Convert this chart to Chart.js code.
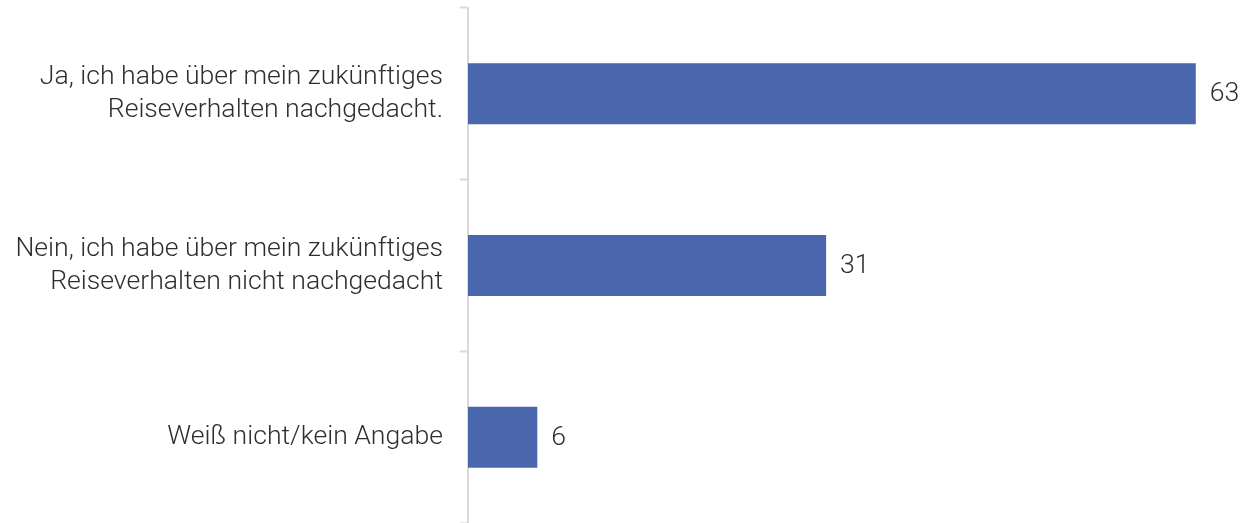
<!DOCTYPE html>
<html>
<head>
<meta charset="utf-8">
<script src="https://cdn.jsdelivr.net/npm/chart.js@4/dist/chart.umd.min.js"></script>
<style>
  html, body { margin: 0; padding: 0; background: #ffffff; }
  #wrap { width: 1244px; height: 523px; position: relative; }
</style>
</head>
<body>
<div id="wrap"><canvas id="c"></canvas></div>
<script>
// Answer categories (multi-line labels) and their shares in percent
const categories = [
  ["Ja, ich habe über mein zukünftiges", "Reiseverhalten nachgedacht."],
  ["Nein, ich habe über mein zukünftiges", "Reiseverhalten nicht nachgedacht"],
  ["Weiß nicht/kein Angabe"]
];
const values = [63, 31, 6];

const barColor = '#4a66ad';
const textColor = '#2e2e2e';
const axisColor = '#d9d9d9';
const fontFamily = 'Roboto, "Noto Sans", sans-serif';

// Writes each bar's value just to the right of its end
const valueLabels = {
  id: 'valueLabels',
  afterDatasetsDraw(chart) {
    const ctx = chart.ctx;
    const meta = chart.getDatasetMeta(0);
    ctx.save();
    ctx.font = '300 26.6px ' + fontFamily;
    ctx.fillStyle = textColor;
    ctx.textAlign = 'left';
    ctx.textBaseline = 'middle';
    meta.data.forEach((bar, i) => {
      ctx.fillText(String(values[i]), bar.x + 14, bar.y + 1);
    });
    ctx.restore();
  }
};

new Chart(document.getElementById('c'), {
  type: 'bar',
  data: {
    labels: categories,
    datasets: [{
      data: values,
      backgroundColor: barColor,
      borderWidth: 0,
      barPercentage: 0.355,
      categoryPercentage: 1.0
    }]
  },
  options: {
    indexAxis: 'y',
    responsive: true,
    maintainAspectRatio: false,
    animation: false,
    layout: { padding: { top: 8, right: 2, bottom: 0, left: 0 } },
    plugins: {
      legend: { display: false },
      tooltip: { enabled: false }
    },
    scales: {
      x: {
        display: false,
        min: 0,
        max: 67
      },
      y: {
        afterFit(scale) {
          scale.width = 468;
          scale.paddingTop = 0;
          scale.paddingBottom = 0;
        },
        border: { display: true, color: axisColor, width: 2 },
        grid: {
          offset: true,
          drawOnChartArea: false,
          drawTicks: true,
          tickLength: 8,
          tickColor: axisColor,
          tickWidth: 2
        },
        ticks: {
          padding: 17,
          color: textColor,
          font: { family: fontFamily, size: 26.6, weight: 300, lineHeight: 1.25 }
        }
      }
    }
  },
  plugins: [valueLabels]
});
</script>
</body>
</html>
